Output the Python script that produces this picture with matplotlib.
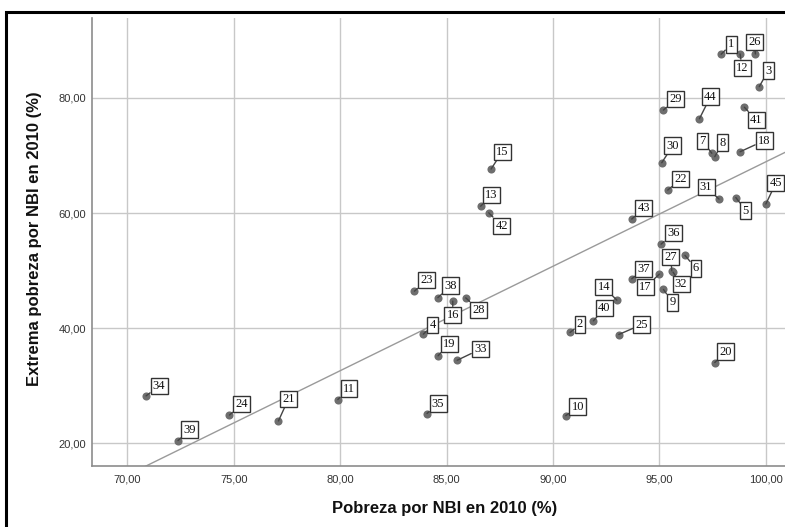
"""
Scatter: Pobreza por NBI vs Extrema pobreza por NBI (2010), SPSS-style,
with case labels and a linear fit line.
"""

import numpy as np
import matplotlib.pyplot as plt
from matplotlib.patches import Rectangle

# ===== Data =====
case_id = [1, 12, 26, 3, 29, 44, 41, 18, 7, 8,
           30, 15, 22, 31, 5, 45, 13, 42, 43, 36,
           6, 27, 32, 17, 9, 37, 14, 40, 2, 25,
           20, 23, 38, 16, 28, 4, 19, 33, 34, 24,
           21, 11, 35, 39, 10]
pobreza_nbi = [97.90, 98.79, 99.51, 99.69, 95.19, 96.88, 98.99, 98.79, 97.46, 97.60,
               95.11, 87.09, 95.39, 97.80, 98.59, 100.00, 86.60, 86.98, 93.70, 95.08,
               96.20, 95.58, 95.64, 95.00, 95.19, 93.70, 93.00, 91.90, 90.80, 93.09,
               97.60, 83.49, 84.59, 85.29, 85.90, 83.91, 84.60, 85.50, 70.88, 74.80,
               77.10, 79.89, 84.08, 72.38, 90.60]
extrema_nbi = [87.60, 87.65, 87.65, 81.97, 77.90, 76.40, 78.40, 70.66, 70.40, 69.80,
               68.75, 67.65, 64.00, 62.43, 62.70, 61.57, 61.20, 60.05, 58.96, 54.60,
               52.65, 49.97, 49.74, 49.40, 46.73, 48.58, 44.87, 41.27, 39.25, 38.90,
               34.03, 46.43, 45.30, 44.70, 45.27, 38.96, 35.20, 34.43, 28.23, 24.90,
               23.88, 27.60, 25.17, 20.47, 24.80]

x_ticks = [70, 75, 80, 85, 90, 95, 100]
y_ticks = [20, 40, 60, 80]

# label box offsets from the point, in pixels (dx right, dy down)
label_offset = {
    1: (10, -10), 12: (2, 14), 26: (-1, -12), 3: (9, -16), 29: (12, -11),
    44: (11, -22), 41: (12, 13), 18: (24, -11), 7: (-9, -12), 8: (8, -14),
    30: (11, -17), 15: (11, -17), 22: (13, -11), 31: (-13, -12), 5: (10, 13),
    45: (10, -21), 13: (11, -11), 42: (13, 13), 43: (12, -11), 36: (12, -11),
    6: (11, 13), 27: (-1, -14), 32: (8, 12), 17: (-14, 13), 9: (9, 13),
    37: (12, -10), 14: (-13, -13), 40: (11, -13), 2: (10, -8), 25: (23, -10),
    20: (11, -11), 23: (12, -11), 38: (13, -12), 16: (0, 14), 28: (13, 12),
    4: (9, -9), 19: (11, -12), 33: (23, -11), 34: (13, -10), 24: (12, -11),
    21: (10, -22), 11: (11, -11), 35: (11, -10), 39: (12, -11), 10: (12, -9),
}

x = np.array(pobreza_nbi)
y = np.array(extrema_nbi)

# ===== Figure =====
fig = plt.figure(figsize=(7.85, 5.27), dpi=100)
ax = fig.add_axes([92 / 785, 1 - 466 / 527, 1 - 92 / 785, (466 - 18) / 527])

ax.set_xlim(68.34, 100.9)
ax.set_ylim(16.05, 93.9)

ax.grid(True, color="#c8c8c8", linewidth=1)
ax.set_axisbelow(True)
for side in ["top", "right"]:
    ax.spines[side].set_visible(False)
for side in ["left", "bottom"]:
    ax.spines[side].set_color("#8c8c8c")
    ax.spines[side].set_linewidth(1.2)

ax.set_xticks(x_ticks)
ax.set_yticks(y_ticks)
ax.set_xticklabels([f"{v:.2f}".replace(".", ",") for v in x_ticks],
                   family="Liberation Sans", fontsize=8, color="#333333")
ax.set_yticklabels([f"{v:.2f}".replace(".", ",") for v in y_ticks],
                   family="Liberation Sans", fontsize=8, color="#333333")
ax.tick_params(axis="both", length=0)
ax.tick_params(axis="x", pad=6)
ax.tick_params(axis="y", pad=4)

# linear fit
slope, intercept = np.polyfit(x, y, 1)
xl = np.array(ax.get_xlim())
ax.plot(xl, slope * xl + intercept, color="#9a9a9a", linewidth=1, zorder=2)

ax.scatter(x, y, s=34, color="#6e6e6e", zorder=3, linewidths=0)

for cid, xi, yi in zip(case_id, x, y):
    dx, dy = label_offset[cid]
    ax.annotate(str(cid), (xi, yi), xytext=(dx, -dy), textcoords="offset pixels",
                ha="center", va="center", family="Liberation Serif", fontsize=9,
                color="#111111", zorder=4,
                bbox=dict(boxstyle="square,pad=0.18", fc="white", ec="#333333", lw=1),
                arrowprops=dict(arrowstyle="-", color="#444444", lw=1,
                                shrinkA=0, shrinkB=0))

fig.text(445 / 785, 1 - 508 / 527, "Pobreza por NBI en 2010 (%)",
         ha="center", va="center", family="Liberation Sans", fontsize=12,
         fontweight="bold", color="#111111")
fig.text(35 / 785, 1 - 239 / 527, "Extrema pobreza por NBI en 2010 (%)",
         ha="center", va="center", rotation=90, family="Liberation Sans",
         fontsize=12, fontweight="bold", color="#111111")

# outer frame (only left and top edges are visible in the crop)
fig.patches.append(Rectangle((6 / 785, -0.05), 1.1, 1 - 12 / 527 + 0.05,
                             transform=fig.transFigure, fill=False,
                             edgecolor="black", linewidth=2.2))

fig.savefig("out.png", dpi=100)
